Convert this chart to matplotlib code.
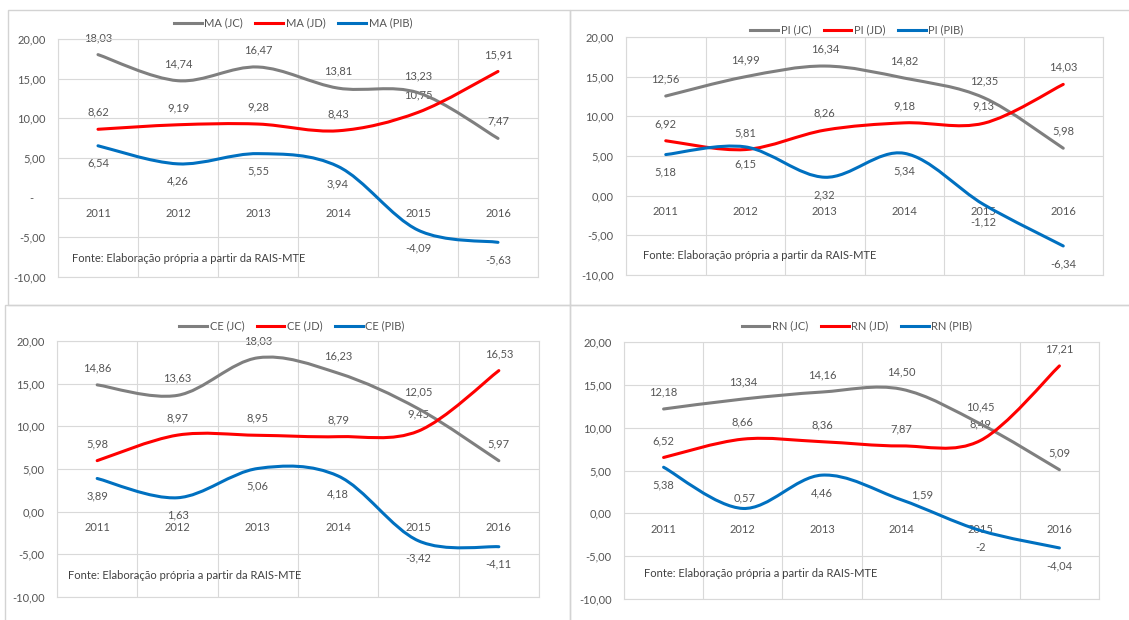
import matplotlib
matplotlib.use("Agg")
import matplotlib.pyplot as plt
import numpy as np
from matplotlib.path import Path
from matplotlib.patches import PathPatch, Rectangle
from matplotlib.lines import Line2D

plt.rcParams["font.family"] = ["Lato", "DejaVu Sans"]

# ---- data -------------------------------------------------------------
years = ["2011", "2012", "2013", "2014", "2015", "2016"]

ma_jc = [18.03, 14.74, 16.47, 13.81, 13.23, 7.47]
ma_jd = [8.62, 9.19, 9.28, 8.43, 10.75, 15.91]
ma_pib = [6.54, 4.26, 5.55, 3.94, -4.09, -5.63]

pi_jc = [12.56, 14.99, 16.34, 14.82, 12.35, 5.98]
pi_jd = [6.92, 5.81, 8.26, 9.18, 9.13, 14.03]
pi_pib = [5.18, 6.15, 2.32, 5.34, -1.12, -6.34]

ce_jc = [14.86, 13.63, 18.03, 16.23, 12.05, 5.97]
ce_jd = [5.98, 8.97, 8.95, 8.79, 9.45, 16.53]
ce_pib = [3.89, 1.63, 5.06, 4.18, -3.42, -4.11]

rn_jc = [12.18, 13.34, 14.16, 14.50, 10.45, 5.09]
rn_jd = [6.52, 8.66, 8.36, 7.87, 8.49, 17.21]
rn_pib = [5.38, 0.57, 4.46, 1.59, -2, -4.04]

states = ["MA", "PI", "CE", "RN"]
series_suffix = ["JC", "JD", "PIB"]
y_ticks = [-10, -5, 0, 5, 10, 15, 20]
source_note = "Fonte: Elaboração própria a partir da RAIS-MTE"

# ---- style ------------------------------------------------------------
W, H = 1129, 620
PT = 72 / 100          # points per pixel at 100 dpi
FS = 8.0
TXT = "#555555"
FOOT = "#404040"
GRID = "#D9D9D9"
COLORS = ["#7F7F7F", "#FF0000", "#0070C0"]
LW = 2.2

# plot rectangles (pixels: left, top, right, bottom)
rects = {
    "MA": (58, 39, 538, 277),
    "PI": (626, 37, 1103, 275),
    "CE": (57, 341, 539, 597),
    "RN": (624, 342, 1099, 599),
}
legend_centers = {"MA": (293, 23), "PI": (857, 30), "CE": (292, 326), "RN": (857, 326)}
note_pos = {"MA": (14, -7.7), "PI": (17, -7.6), "CE": (11, -7.45), "RN": (20, -7.05)}
panel_frames = [(8, 10, 570, 305), (570, 10, 1135, 305),
                (5, 305, 570, 625), (570, 305, 1135, 625)]

# label offsets in pixels (dx, dy; positive dy is downward)
ABOVE, BELOW = (0, -17), (0, 17.5)
label_override = {("RN", 2, 1): (1.5, -11), ("RN", 2, 3): (21, -5)}


def fmt(v):
    if float(v).is_integer():
        return str(int(v))
    return f"{v:.2f}".replace(".", ",")


def smooth_path(xs, ys, t=1 / 6):
    pts = np.column_stack([xs, ys]).astype(float)
    n = len(pts)
    verts, codes = [pts[0]], [Path.MOVETO]
    for i in range(n - 1):
        p0, p1 = pts[max(i - 1, 0)], pts[i]
        p2, p3 = pts[i + 1], pts[min(i + 2, n - 1)]
        verts += [p1 + (p2 - p0) * t, p2 - (p3 - p1) * t, p2]
        codes += [Path.CURVE4] * 3
    return Path(verts, codes)


values = {
    "MA": [ma_jc, ma_jd, ma_pib],
    "PI": [pi_jc, pi_jd, pi_pib],
    "CE": [ce_jc, ce_jd, ce_pib],
    "RN": [rn_jc, rn_jd, rn_pib],
}

fig = plt.figure(figsize=(W / 100, H / 100), dpi=100)

for (x0, y0, x1, y1) in panel_frames:
    fig.add_artist(Rectangle((x0 / W, 1 - y1 / H), (x1 - x0) / W, (y1 - y0) / H,
                             transform=fig.transFigure, fill=False,
                             ec="#D3D3D3", lw=1.0))

xs = np.arange(len(years)) + 0.5

for st in states:
    x0, y0, x1, y1 = rects[st]
    ax = fig.add_axes([x0 / W, 1 - y1 / H, (x1 - x0) / W, (y1 - y0) / H])
    ax.set_xlim(0, len(years))
    ax.set_ylim(-10, 20)
    ax.set_xticks(range(len(years) + 1))
    ax.set_xticklabels([])
    ax.set_yticks(y_ticks)
    ylabels = []
    for v in y_ticks:
        if v == 0 and st == "MA":
            ylabels.append("-    ")
        else:
            ylabels.append(f"{v:.2f}".replace(".", ","))
    ax.set_yticklabels(ylabels)
    ax.tick_params(axis="both", length=0)
    ax.tick_params(axis="y", pad=9, labelsize=FS, labelcolor=TXT)
    ax.grid(True, color=GRID, lw=0.8, zorder=0)
    ax.set_axisbelow(True)
    for sp in ax.spines.values():
        sp.set_color(GRID)
        sp.set_linewidth(0.8)

    for i, yr in enumerate(years):
        ax.annotate(yr, (xs[i], 0), xytext=(0, -16 * PT), textcoords="offset points",
                    ha="center", va="center", fontsize=FS, color=TXT, zorder=1.5)

    handles = []
    for k, vals in enumerate(values[st]):
        path = smooth_path(xs, vals)
        ax.add_patch(PathPatch(path, fill=False, ec=COLORS[k], lw=LW,
                               capstyle="round", joinstyle="round", zorder=3))
        handles.append(Line2D([], [], color=COLORS[k], lw=LW))
        for i, v in enumerate(vals):
            dx, dy = label_override.get((st, k, i), BELOW if k == 2 else ABOVE)
            ax.annotate(fmt(v), (xs[i], v), xytext=(dx * PT, -dy * PT),
                        textcoords="offset points", ha="center", va="center",
                        fontsize=FS, color=TXT, zorder=2.5)

    nx, ny = note_pos[st]
    ax.annotate(source_note, xy=(0, ny), xycoords=("axes fraction", "data"),
                xytext=(nx * PT, 0), textcoords="offset points",
                ha="left", va="center", fontsize=FS, color=FOOT, zorder=2)

    cx, cy = legend_centers[st]
    fig.legend(handles, [f"{st} ({s})" for s in series_suffix], loc="center",
               bbox_to_anchor=(cx / W, 1 - cy / H), ncol=3, frameon=False,
               fontsize=FS, handlelength=2.5, handletextpad=0.25,
               columnspacing=1.1, labelcolor=TXT, borderaxespad=0, borderpad=0)

fig.savefig("out.png", dpi=100)
